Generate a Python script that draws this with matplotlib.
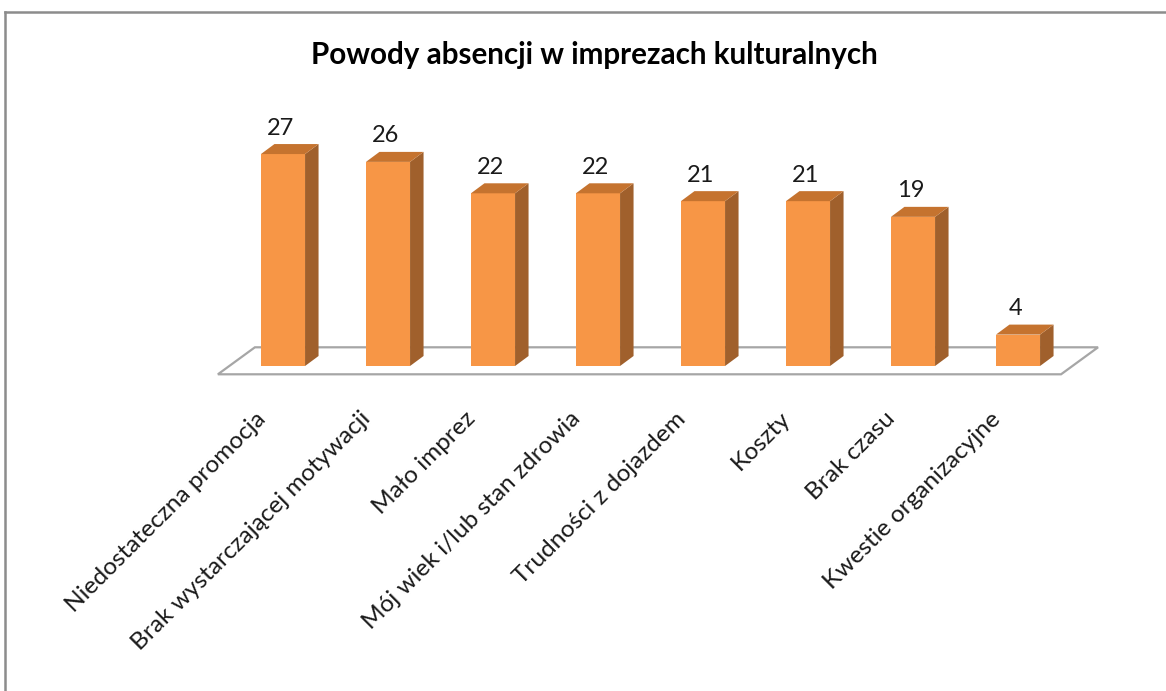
import matplotlib
matplotlib.use('Agg')
import matplotlib.pyplot as plt
from matplotlib.patches import Polygon
from matplotlib.lines import Line2D

# data
categories = ['Niedostateczna promocja', 'Brak wystarczającej motywacji', 'Mało imprez',
              'Mój wiek i/lub stan zdrowia', 'Trudności z dojazdem', 'Koszty',
              'Brak czasu', 'Kwestie organizacyjne']
values = [27, 26, 22, 22, 21, 21, 19, 4]
title = 'Powody absencji w imprezach kulturalnych'

front_col = '#f79646'
side_col = '#a0602c'
top_col = '#c5732f'
floor_edge = '#a6a6a6'

plt.rcParams['font.family'] = ['Lato', 'DejaVu Sans']

W, H = 1166, 691
fig = plt.figure(figsize=(W / 100, H / 100), dpi=100)
ax = fig.add_axes([0, 0, 1, 1])

# scale: one category step = 105 px, one unit of value = 7.85 px
px_x, px_y = 105.0, 7.85
x0_px, y0_px = 283.0, 366.0
ax.set_xlim(-x0_px / px_x, (W - x0_px) / px_x)
ax.set_ylim((y0_px - H) / px_y, y0_px / px_y)
ax.axis('off')

def px(dx, dy):
    # pixel offset -> data offset (dy positive = up)
    return dx / px_x, dy / px_y

n = len(values)
half = 0.21
bdx, bdy = px(13.5, 10)

# floor
fdx, fdy = px(37, 27)
fx0, fy0 = -0.62, px(0, -8.3)[1]
fx1 = n - 1 + 0.41
floor = Polygon([(fx0, fy0), (fx1, fy0), (fx1 + fdx, fy0 + fdy), (fx0 + fdx, fy0 + fdy)],
                closed=True, facecolor='white', edgecolor=floor_edge, lw=1.6, zorder=1)
ax.add_patch(floor)

for i, v in enumerate(values):
    l, r = i - half, i + half
    front = Polygon([(l, 0), (r, 0), (r, v), (l, v)], closed=True,
                    facecolor=front_col, edgecolor='none', zorder=3)
    side = Polygon([(r, 0), (r + bdx, bdy), (r + bdx, v + bdy), (r, v)], closed=True,
                   facecolor=side_col, edgecolor='none', zorder=3)
    top = Polygon([(l, v), (r, v), (r + bdx, v + bdy), (l + bdx, v + bdy)], closed=True,
                  facecolor=top_col, edgecolor='none', zorder=3)
    for p in (front, side, top):
        ax.add_patch(p)
    ax.text(i - 0.02, v + bdy + px(0, 16)[1], str(v), ha='center', va='center',
            fontsize=17, color='#1a1a1a', zorder=4)
    ax.text(i - 0.27, px(0, -42)[1], categories[i], rotation=45, rotation_mode='anchor',
            ha='right', va='top', fontsize=17.6, color='#1a1a1a')

fig.text(594 / W, 1 - 55 / H, title, ha='center', va='center', fontsize=21.3,
         fontweight='bold', color='black')

# chart frame (top and left edges visible)
fig.add_artist(Line2D([5 / W, 5 / W], [0, 1 - 12 / H], transform=fig.transFigure,
                      color='#8c8c8c', lw=1.8))
fig.add_artist(Line2D([5 / W, 1], [1 - 12 / H, 1 - 12 / H], transform=fig.transFigure,
                      color='#8c8c8c', lw=1.8))

fig.savefig('out.png', dpi=100)
